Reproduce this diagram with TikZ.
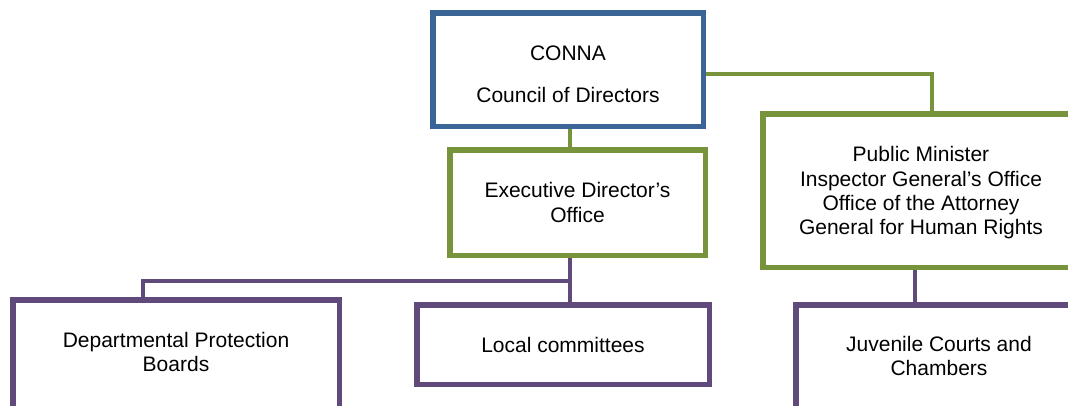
\documentclass[tikz,border=0pt]{standalone}
\usepackage{fontspec}
\setmainfont{Liberation Sans}
\usetikzlibrary{backgrounds}
\definecolor{boxblue}{HTML}{3B6597}
\definecolor{boxgreen}{HTML}{77933C}
\definecolor{boxpurple}{HTML}{604A7B}
\tikzset{
  orgbox/.style={draw, line width=5.5pt, fill=white, rectangle, inner sep=0pt, align=center,
    font=\fontsize{21}{24.3}\selectfont, text=black},
  boxtext/.style={inner sep=0pt, align=center, font=\fontsize{21}{24.3}\selectfont, text=black},
  conn/.style={line width=4pt}
}
\begin{document}
\begin{tikzpicture}[x=1pt,y=-1pt]
\clip (0,0) rectangle (1068,405);
\node[orgbox, draw=boxblue, minimum width=270.5pt, minimum height=113.5pt] (conna) at (568,69.5) {};
\node[boxtext] (connatext) at ([yshift=-4.5pt]conna.center) {CONNA\\[18pt]Council of Directors};
\node[orgbox, draw=boxgreen, minimum width=255.5pt, minimum height=105.5pt] (exec) at (577.5,202.5) {Executive Director’s\\Office};
\node[orgbox, draw=boxgreen, minimum width=316.5pt, minimum height=153.5pt] (pub) at (921,190.5) {};
\node[boxtext] (pubtext) at ([yshift=-2.5pt]pub.center) {Public Minister\\Inspector General’s Office\\Office of the Attorney\\General for Human Rights};
\node[orgbox, draw=boxpurple, minimum width=326.5pt, minimum height=117.5pt] (dept) at (176,358.5) {};
\node[boxtext] (depttext) at ([yshift=6.5pt]dept.center) {Departmental Protection\\Boards};
\node[orgbox, draw=boxpurple, minimum width=292.5pt, minimum height=79.5pt] (local) at (563,344.5) {Local committees};
\node[orgbox, draw=boxpurple, minimum width=286.5pt, minimum height=112.5pt] (juv) at (939,361) {};
\node[boxtext] (juvtext) at ([yshift=5pt]juv.center) {Juvenile Courts and\\Chambers};
\coordinate (exsouth) at ([xshift=-7.5pt]exec.south);
\coordinate (bus) at (570,281);
\begin{scope}[on background layer]
\fill[white] (0,0) rectangle (1068,405);
\draw[conn, boxgreen] ([xshift=2pt]conna.south) -- ([xshift=2pt]conna.south |- exec.north);
\draw[conn, boxgreen] ([yshift=-4.5pt]conna.east) -| ([xshift=11pt]pub.north);
\draw[conn, boxpurple] (exsouth) -- (exsouth |- local.north);
\draw[conn, boxpurple] (bus) -| ([xshift=-33pt]dept.north);
\draw[conn, boxpurple] ([xshift=-6pt]pub.south) -- ([xshift=-6pt]pub.south |- juv.north);
\end{scope}
\end{tikzpicture}
\end{document}
